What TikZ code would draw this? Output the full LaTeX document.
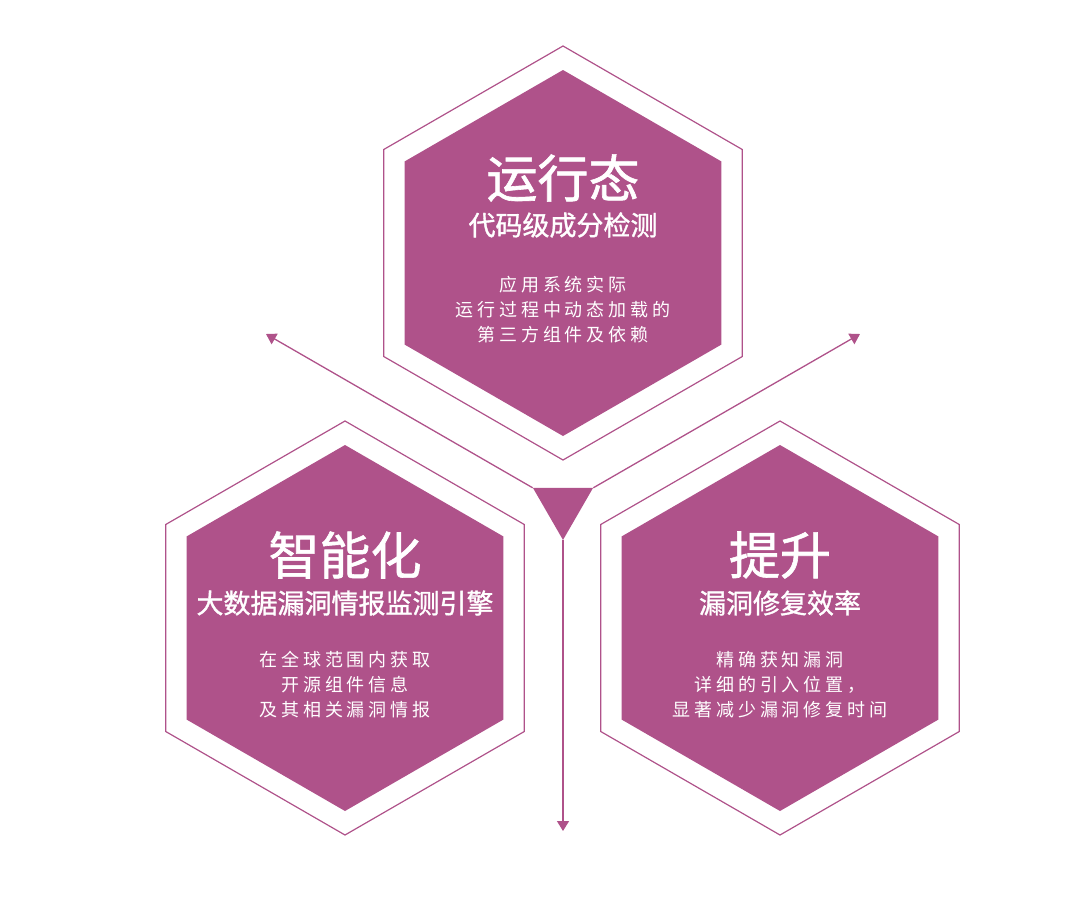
\documentclass[tikz,border=0pt]{standalone}
\usepackage{fontspec}
\usepackage{tikz}
\usetikzlibrary{arrows.meta,shapes.geometric}
\newfontfamily\cjk[FakeBold=1.2]{Noto Sans CJK SC}
\newfontfamily\cjkbody[LetterSpace=22]{Noto Sans CJK SC}
\definecolor{plum}{RGB}{175,82,138}

\begin{document}
\begin{tikzpicture}[x=1pt,y=-1pt,
  hexframe/.style={regular polygon,regular polygon sides=6,shape border rotate=30,
    draw=plum,line width=1.2pt,minimum size=414pt,inner sep=0pt},
  hexfill/.style={regular polygon,regular polygon sides=6,shape border rotate=30,
    fill=plum,minimum size=366pt,inner sep=0pt},
  title/.style={text=white,inner sep=0pt,font=\cjk\fontsize{51}{51}\selectfont},
  subtitle/.style={text=white,inner sep=0pt,font=\cjk\fontsize{27}{27}\selectfont},
  body/.style={text=white,inner sep=0pt,align=center,font=\cjkbody\fontsize{18}{25}\selectfont},
  link/.style={draw=plum,line width=1.3pt,-{Triangle[length=10pt,width=12pt]}}]
\useasboundingbox (0,0) rectangle (1080,919);
% top: runtime
\node[hexframe] (runFrame) at (563,253) {};
\node[hexfill] (run) at (563,253) {};
\node[title] at ([yshift=75pt]run.center) {运行态};
\node[subtitle] at ([yshift=28pt]run.center) {代码级成分检测};
\node[body] at ([yshift=-57pt]run.center) {应用系统实际\\运行过程中动态加载的\\第三方组件及依赖};
% left: intelligence
\node[hexframe] (smartFrame) at (345,628) {};
\node[hexfill] (smart) at (345,628) {};
\node[title] at ([yshift=73pt]smart.center) {智能化};
\node[subtitle] at ([yshift=25pt]smart.center) {大数据漏洞情报监测引擎};
\node[body] at ([yshift=-57pt]smart.center) {在全球范围内获取\\开源组件信息\\及其相关漏洞情报};
% right: efficiency
\node[hexframe] (fixFrame) at (780,628) {};
\node[hexfill] (fix) at (780,628) {};
\node[title] at ([yshift=73pt]fix.center) {提升};
\node[subtitle] at ([yshift=25pt]fix.center) {漏洞修复效率};
\node[body] at ([yshift=-57pt]fix.center) {精确获知漏洞\\详细的引入位置，\\显著减少漏洞修复时间};
% hub and arrows
\node[regular polygon,regular polygon sides=3,shape border rotate=180,fill=plum,
  minimum size=69.3pt,inner sep=0pt] (hub) at (563,505.3) {};
\coordinate (leftEnd) at (266,334);
\coordinate (rightEnd) at (860,334);
\coordinate (downEnd) at (563,831);
\draw[link] (hub.150) -- (leftEnd);
\draw[link] (hub.30) -- (rightEnd);
\draw[link] (hub.270) -- (downEnd);
\end{tikzpicture}
\end{document}
